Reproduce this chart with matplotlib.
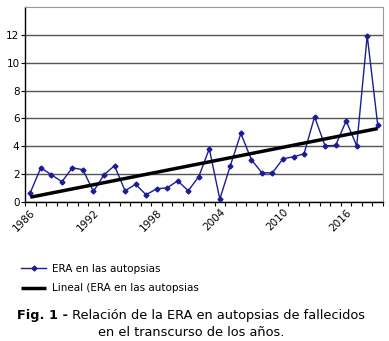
import numpy as np
import matplotlib.pyplot as plt

years = np.arange(1986, 2020)
era = [0.65, 2.44, 1.94, 1.44, 2.44, 2.30, 0.74, 1.94, 2.59, 0.79,
       1.25, 0.50, 0.93, 1.00, 1.50, 0.79, 1.80, 3.81, 0.19, 2.59,
       4.91, 3.02, 2.08, 2.08, 3.09, 3.23, 3.45, 6.11, 4.02, 4.05,
       5.82, 4.02, 11.95, 5.51]
tick_years = [1986, 1992, 1998, 2004, 2010, 2016]
y_ticks = [0, 2, 4, 6, 8, 10, 12]

fig = plt.figure(figsize=(3.89, 3.41), dpi=100)
ax = fig.add_axes([0.0643, 0.4085, 0.9203, 0.5705])

x = np.arange(len(years))
p_line, = ax.plot(x, era, color='#1c1c96', lw=1, marker='D', ms=2.5)

# linear trend line (as in Excel)
k, b = np.polyfit(x, era, 1)
t_line, = ax.plot(x, k * x + b, color='black', lw=2.5, solid_capstyle='butt')

ax.set_xlim(-0.5, len(years) - 0.5)
ax.set_ylim(0, 14)
ax.set_yticks(y_ticks)
ax.set_yticklabels([str(v) for v in y_ticks], fontsize=7.5)
ax.yaxis.grid(True, color='#555555', lw=1)
ax.set_axisbelow(True)

ax.set_xticks(np.arange(-0.5, len(years), 1), minor=True)
ax.set_xticks([list(years).index(y) for y in tick_years])
ax.set_xticklabels([str(y) for y in tick_years], fontsize=7.5, rotation=45,
                   ha='right', rotation_mode='anchor')
ax.tick_params(axis='x', which='major', length=0, pad=4)
ax.tick_params(axis='x', which='minor', length=3, width=0.8)
ax.tick_params(axis='y', length=3, width=0.8, pad=1)

ax.spines['top'].set_color('#999999')
ax.spines['right'].set_color('#999999')
ax.spines['left'].set_linewidth(1)
ax.spines['bottom'].set_linewidth(1)

fig.legend([p_line, t_line], ['ERA en las autopsias', 'Lineal (ERA en las autopsias'],
           loc='upper left', bbox_to_anchor=(0.03, 0.253), frameon=False,
           fontsize=7.5, handlelength=2.4, handletextpad=0.6, labelspacing=0.9)

t1 = fig.text(0.043, 1 - 315 / 341, 'Fig. 1 -', fontsize=9.3, fontweight='bold', va='center')
ax.annotate(' Relación de la ERA en autopsias de fallecidos', xy=(1, 0.5),
            xycoords=t1, va='center', fontsize=9.3)
fig.text(0.492, 1 - 333 / 341, 'en el transcurso de los años.', fontsize=9.3,
         ha='center', va='center')

fig.savefig('out.png', dpi=100)
